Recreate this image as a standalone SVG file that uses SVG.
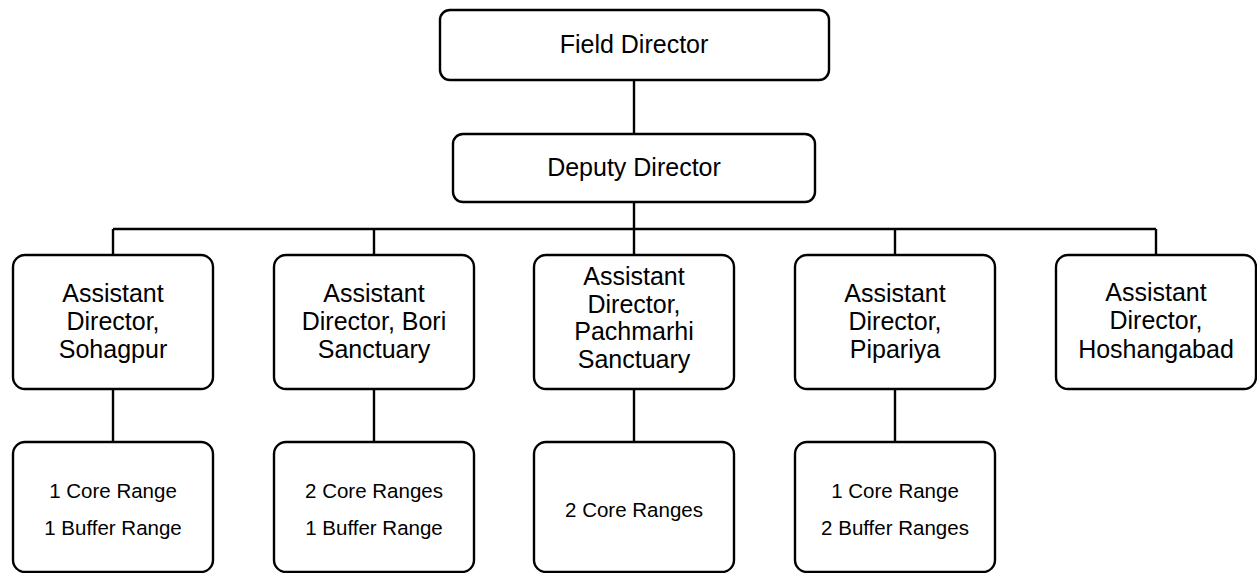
<svg xmlns="http://www.w3.org/2000/svg" width="1257" height="573" viewBox="0 0 1257 573">
  <style>
    .box { fill: #ffffff; stroke: #000000; stroke-width: 2.4; }
    .link { fill: none; stroke: #000000; stroke-width: 2.4; }
    .t { font-family: "Liberation Sans", Arial, sans-serif; font-size: 25px; fill: #000000; text-anchor: middle; }
    .s { font-family: "Liberation Sans", Arial, sans-serif; font-size: 20.5px; fill: #000000; text-anchor: middle; }
  </style>
  <rect width="1257" height="573" fill="#ffffff"/>

  <g id="connectors">
    <line class="link" x1="634" y1="80" x2="634" y2="134"/>
    <line class="link" x1="634" y1="202" x2="634" y2="229"/>
    <line class="link" x1="113" y1="229" x2="1156" y2="229"/>
    <line class="link" x1="113" y1="229" x2="113" y2="255"/>
    <line class="link" x1="374" y1="229" x2="374" y2="255"/>
    <line class="link" x1="634" y1="229" x2="634" y2="255"/>
    <line class="link" x1="895" y1="229" x2="895" y2="255"/>
    <line class="link" x1="1156" y1="229" x2="1156" y2="255"/>
    <line class="link" x1="113" y1="389" x2="113" y2="442"/>
    <line class="link" x1="374" y1="389" x2="374" y2="442"/>
    <line class="link" x1="634" y1="389" x2="634" y2="442"/>
    <line class="link" x1="895" y1="389" x2="895" y2="442"/>
  </g>

  <g id="field-director">
    <rect class="box" x="440" y="10" width="389" height="70" rx="10"/>
    <text class="t" x="634" y="53">Field Director</text>
  </g>

  <g id="deputy-director">
    <rect class="box" x="453" y="134" width="362" height="68" rx="10"/>
    <text class="t" x="634" y="176">Deputy Director</text>
  </g>

  <g id="ad-sohagpur">
    <rect class="box" x="13" y="255" width="200" height="134" rx="12"/>
    <text class="t" x="113" y="302">Assistant</text>
    <text class="t" x="113" y="330">Director,</text>
    <text class="t" x="113" y="358">Sohagpur</text>
  </g>

  <g id="ad-bori">
    <rect class="box" x="274" y="255" width="200" height="134" rx="12"/>
    <text class="t" x="374" y="302">Assistant</text>
    <text class="t" x="374" y="330">Director, Bori</text>
    <text class="t" x="374" y="358">Sanctuary</text>
  </g>

  <g id="ad-pachmarhi">
    <rect class="box" x="534" y="255" width="200" height="134" rx="12"/>
    <text class="t" x="634" y="285">Assistant</text>
    <text class="t" x="634" y="313">Director,</text>
    <text class="t" x="634" y="340">Pachmarhi</text>
    <text class="t" x="634" y="368">Sanctuary</text>
  </g>

  <g id="ad-pipariya">
    <rect class="box" x="795" y="255" width="200" height="134" rx="12"/>
    <text class="t" x="895" y="302">Assistant</text>
    <text class="t" x="895" y="330">Director,</text>
    <text class="t" x="895" y="358">Pipariya</text>
  </g>

  <g id="ad-hoshangabad">
    <rect class="box" x="1056" y="255" width="200" height="134" rx="12"/>
    <text class="t" x="1156" y="301">Assistant</text>
    <text class="t" x="1156" y="329">Director,</text>
    <text class="t" x="1156" y="358">Hoshangabad</text>
  </g>

  <g id="ranges-sohagpur">
    <rect class="box" x="13" y="442" width="200" height="130" rx="12"/>
    <text class="s" x="113" y="498">1 Core Range</text>
    <text class="s" x="113" y="535">1 Buffer Range</text>
  </g>

  <g id="ranges-bori">
    <rect class="box" x="274" y="442" width="200" height="130" rx="12"/>
    <text class="s" x="374" y="498">2 Core Ranges</text>
    <text class="s" x="374" y="535">1 Buffer Range</text>
  </g>

  <g id="ranges-pachmarhi">
    <rect class="box" x="534" y="442" width="200" height="130" rx="12"/>
    <text class="s" x="634" y="517">2 Core Ranges</text>
  </g>

  <g id="ranges-pipariya">
    <rect class="box" x="795" y="442" width="200" height="130" rx="12"/>
    <text class="s" x="895" y="498">1 Core Range</text>
    <text class="s" x="895" y="535">2 Buffer Ranges</text>
  </g>
</svg>
